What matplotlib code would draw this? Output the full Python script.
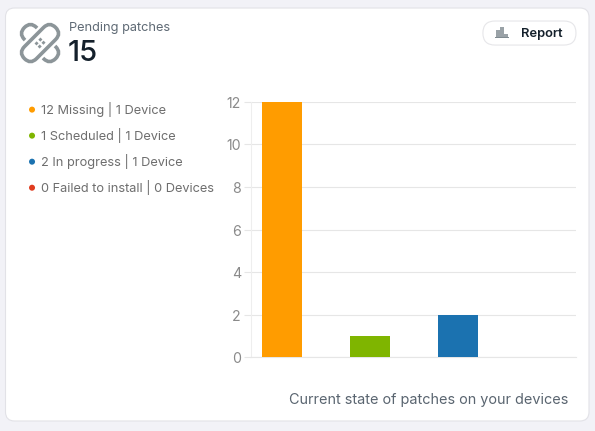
import matplotlib; matplotlib.use("Agg"); import matplotlib.pyplot as plt
from matplotlib.patches import FancyBboxPatch, Circle, Rectangle
from matplotlib.transforms import Affine2D

plt.rcParams['font.family'] = ['Inter', 'DejaVu Sans']

states = ["Missing", "Scheduled", "In progress", "Failed to install"]
counts = [12, 1, 2, 0]
devices = ["1 Device", "1 Device", "1 Device", "0 Devices"]
colors = ["#FF9C00", "#7FB500", "#1B72B0", "#E03C1F"]
yticks = [0, 2, 4, 6, 8, 10, 12]
W, H = 595, 431

fig = plt.figure(figsize=((W+0.5)/100, (H+0.5)/100), dpi=100, facecolor="#F2F2F7")

# page-level layer in pixel coordinates for the card, header and legend
bg = fig.add_axes([0, 0, 1, 1], zorder=0)
bg.set_xlim(0, W); bg.set_ylim(H, 0); bg.axis("off")
bg.add_patch(FancyBboxPatch((5.5, 8.5), 583, 412.5, boxstyle="round,pad=0,rounding_size=9",
                            fc="white", ec="#E2E2E7", lw=0.8))

# bandage icon: under band, white halo, top band, centre dots
icon = "#8C9599"
cx, cy = 40, 43.5
def band(angle, ec, lw):
    tr = Affine2D().rotate_deg_around(cx, cy, angle) + bg.transData
    bg.add_patch(FancyBboxPatch((cx-22, cy-8.5), 44, 17, boxstyle="round,pad=0,rounding_size=8.5",
                                fc="white", ec=ec, lw=lw, transform=tr))
band(45, icon, 2.6)
band(-45, "white", 6)
band(-45, icon, 2.6)
tr = Affine2D().rotate_deg_around(cx, cy, -45) + bg.transData
for dx in (-4.2, 1.2):
    for dy in (-3.6, 0.8):
        bg.add_patch(Rectangle((cx+dx, cy+dy), 3, 2.8, fc=icon, ec="none", transform=tr))

bg.text(69, 27.5, "Pending patches", fontsize=9.2, color="#5F6A75", va="center", ha="left")
bg.text(68, 53.5, "15", fontsize=21, fontweight="medium", color="#14202B", va="center", ha="left")

# report button
bg.add_patch(FancyBboxPatch((482.5, 21.5), 93, 24, boxstyle="round,pad=0,rounding_size=12",
                            fc="white", ec="#E6E6E9", lw=0.8))
for x0, top in [(496, 30), (500, 27), (504, 34)]:
    bg.add_patch(Rectangle((x0, top), 4, 37.5-top, fc="#9AA2A7", ec="none"))
bg.add_patch(Rectangle((495, 37.5), 14, 1.2, fc="#7F8A90", ec="none"))
bg.text(521, 33.5, "Report", fontsize=9.3, fontweight="semibold", color="#14202B", va="center", ha="left")

# legend
for i, (s, c, d, col) in enumerate(zip(states, counts, devices, colors)):
    y = 110 + 26*i
    bg.add_patch(Circle((32, y), 3, fc=col, ec="none"))
    bg.text(41, y-1, f"{c} {s} | {d}", fontsize=9.2, color="#6E6E6E", va="center", ha="left")

bg.text(568, 399.5, "Current state of patches on your devices", fontsize=10.4, color="#5A6570",
        va="center", ha="right")

# bar chart
ax = fig.add_axes([250.5/W, 1-357.3/H, (576-250.5)/W, (357.3-102.3)/H], zorder=1)
ax.patch.set_alpha(0)
ax.bar(range(len(counts)), counts, width=0.459, color=colors, zorder=3)
ax.set_xlim((250.5-281.5)/88, (576-281.5)/88)
ax.set_ylim(0, 12)
ax.set_yticks(yticks)
ax.set_xticks([])
ax.tick_params(axis="y", length=5, width=0.8, color="#E6E6E6", labelcolor="#8A8A8A", labelsize=10.2, pad=2)
ax.grid(axis="y", color="#E6E6E6", lw=0.8, zorder=0)
for side in ["top", "right"]:
    ax.spines[side].set_visible(False)
ax.spines["left"].set_color("#EEEEEE")
ax.spines["bottom"].set_color("#E6E6E6")

fig.savefig("out.png", dpi=100, facecolor=fig.get_facecolor())
